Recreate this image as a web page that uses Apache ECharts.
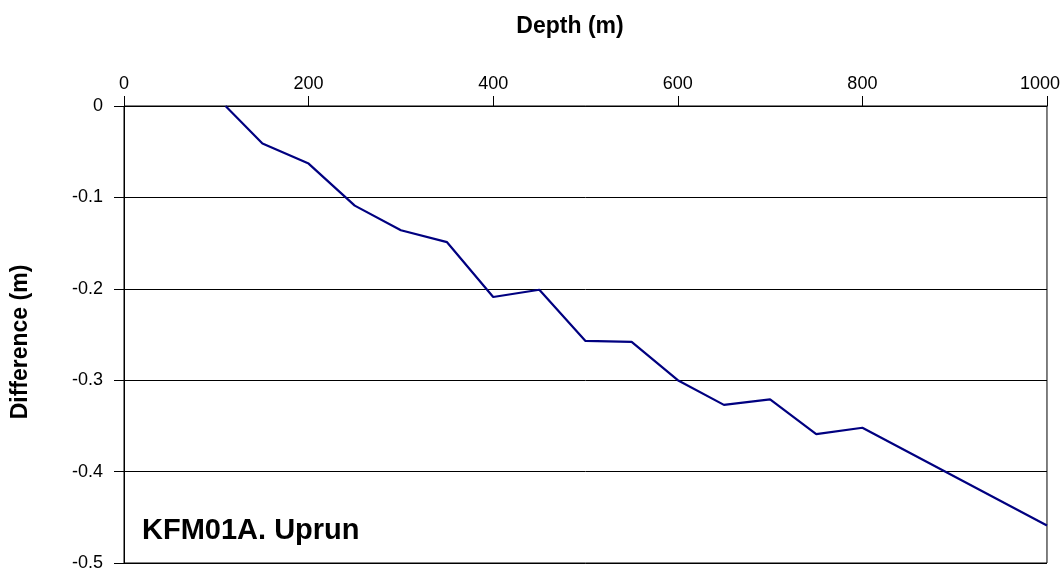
<!DOCTYPE html>
<html>
<head>
<meta charset="utf-8">
<script src="https://cdn.jsdelivr.net/npm/echarts@6/dist/echarts.min.js"></script>
<style>
  html, body { margin: 0; padding: 0; background: #fff; }
  #chart { width: 1063px; height: 572px; }
</style>
</head>
<body>
<div id="chart"></div>
<script>
// Borehole depth readings and the measured difference at each depth
const depths = [110, 150, 200, 250, 300, 350, 400, 450, 500, 550, 600, 650, 700, 750, 800, 1000];
const differences = [0, -0.041, -0.063, -0.109, -0.136, -0.149, -0.209, -0.201, -0.257, -0.258, -0.300, -0.327, -0.321, -0.359, -0.352, -0.459];

const xTitle = 'Depth (m)';
const yTitle = 'Difference (m)';
const panelLabel = 'KFM01A. Uprun';

const FONT = '"Liberation Sans", Arial, sans-serif';

const chart = echarts.init(document.getElementById('chart'), null, { renderer: 'canvas' });

chart.setOption({
  animation: false,
  backgroundColor: '#ffffff',
  grid: {
    left: 124, right: 14, top: 106, bottom: 8,
    show: true, borderColor: '#000', borderWidth: 1, backgroundColor: 'transparent'
  },
  xAxis: {
    type: 'value',
    position: 'top',
    min: 0, max: 1000, interval: 200,
    axisLine: { show: true, lineStyle: { color: '#000', width: 1 } },
    axisTick: { show: true, inside: false, length: 10, lineStyle: { color: '#000' } },
    axisLabel: {
      color: '#000', fontFamily: FONT, fontSize: 18, margin: 13,
      formatter: v => v === 1000 ? '{last|' + v + '}' : String(v),
      rich: { last: { color: '#000', fontFamily: FONT, fontSize: 18, padding: [0, 14, 0, 0] } }
    },
    splitLine: { show: false }
  },
  yAxis: {
    type: 'value',
    min: -0.5, max: 0, interval: 0.1,
    axisLine: { show: true, lineStyle: { color: '#000', width: 1 } },
    axisTick: { show: true, inside: false, length: 10, lineStyle: { color: '#000' } },
    axisLabel: { color: '#000', fontFamily: FONT, fontSize: 18, margin: 21, padding: [4, 0, 0, 0] },
    splitLine: { show: true, lineStyle: { color: '#000', width: 1 } }
  },
  graphic: [
    {
      type: 'text', x: 570, y: 27,
      style: { text: xTitle, fill: '#000', font: 'bold 23px ' + FONT, textAlign: 'center', textVerticalAlign: 'middle' }
    },
    {
      type: 'text', x: 21, y: 342, rotation: Math.PI / 2,
      style: { text: yTitle, fill: '#000', font: 'bold 23px ' + FONT, textAlign: 'center', textVerticalAlign: 'middle' }
    },
    {
      type: 'text', x: 142, y: 531,
      style: { text: panelLabel, fill: '#000', font: 'bold 29px ' + FONT, textAlign: 'left', textVerticalAlign: 'middle' }
    }
  ],
  series: [{
    type: 'line',
    data: depths.map((d, i) => [d, differences[i]]),
    showSymbol: false,
    symbol: 'none',
    lineStyle: { color: '#000080', width: 2.2 },
    z: 5
  }]
});
</script>
</body>
</html>
